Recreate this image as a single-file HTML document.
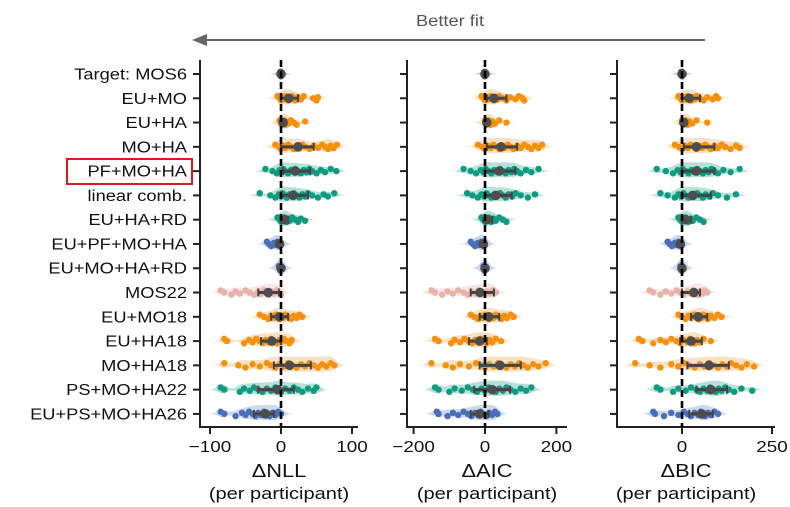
<!DOCTYPE html>
<html><head><meta charset="utf-8"><style>
body{margin:0;background:#fff;}
svg{display:block;font-family:"Liberation Sans",sans-serif;}
</style></head><body>
<svg id="chart" width="790" height="507" viewBox="0 0 790 507">
<text transform="translate(450,26) scale(1.18,1)" x="0" y="0" font-size="15.5" fill="#555" text-anchor="middle">Better fit</text>
<g>
<line x1="705" y1="40" x2="204" y2="40" stroke="#666" stroke-width="2"/>
<polygon points="192,40 207,34 207,46" fill="#666"/>
</g>
<rect x="67" y="159" width="125" height="25" fill="none" stroke="#e0191e" stroke-width="2"/>
</svg>
<script>
const models=["Target: MOS6","EU+MO","EU+HA","MO+HA","PF+MO+HA","linear comb.","EU+HA+RD","EU+PF+MO+HA","EU+MO+HA+RD","MOS22","EU+MO18","EU+HA18","MO+HA18","PS+MO+HA22","EU+PS+MO+HA26"];
const groups=["target","orange","orange","orange","teal","teal","teal","blue","blue","pink","orange","orange","orange","teal","blue"];
const panelNames=["ΔNLL","ΔAIC","ΔBIC"];
const tickNLL=[-100,0,100];
const tickAIC=[-200,0,200];
const tickBIC=[0,250];
const nllPts=[[0,0,0,0,0,-1,1,0],[-5,-2,0,2,4,6,8,10,12,14,16,18,20,24,28,32,45,50,52],[-2,0,1,2,3,4,5,6,8,10,14,18,22,34],[-8,-3,0,3,6,10,14,18,22,26,30,34,40,46,52,58,62,66,70,74,79],[-22,-12,-6,-2,0,3,6,10,14,18,20,24,28,32,36,40,44,50,56,62,70,78],[-30,-15,-8,-3,0,2,5,8,12,16,18,22,26,30,34,38,44,52,60,66,75],[-5,-2,0,2,4,5,6,8,10,12,16,20,24,28,34],[-20,-17,-14,-10,-7,-5,-3,-2,-1,0],[-3,-2,-1,0,0,0],[-85,-80,-70,-64,-58,-50,-44,-38,-32,-28,-24,-20,-17,-14,-10,-6,-3,0],[-30,-24,-18,-14,-10,-7,-4,-2,0,3,6,10,14,18,22,26,30],[-80,-76,-52,-45,-40,-35,-30,-26,-22,-18,-14,-10,-6,-2,0,4,8,12,15],[-80,-60,-50,-40,-30,-20,-14,-8,-2,4,10,16,22,28,34,40,46,52,58,64,70,75],[-85,-80,-58,-52,-44,-38,-32,-26,-20,-14,-8,-4,0,6,12,18,24,30,38,46,50],[-85,-80,-64,-55,-50,-45,-40,-36,-32,-28,-24,-20,-16,-12,-8,-4,0]];
const aicPts=[[0,0,0,0,0,-2,2,0],[-10,-4,0,5,10,15,20,25,30,35,40,50,60,70,85,95,105,110],[0,2,4,6,8,10,12,16,20,28,40,60],[-20,-8,0,8,16,24,32,40,48,56,64,72,80,90,100,110,120,130,140,150,160],[-60,-40,-25,-12,-4,2,10,18,26,34,42,50,58,66,74,82,90,100,115,130,150],[-50,-35,-20,-10,-2,4,10,18,26,34,42,50,58,66,76,86,100,120,140],[-10,-5,0,4,8,10,14,18,24,30,40,50,60],[-40,-34,-28,-20,-14,-10,-6,-3,-1,0],[-4,-2,-1,0,0,0],[-150,-140,-120,-105,-90,-75,-60,-48,-38,-28,-18,-10,-2,6,14,22,30],[-40,-30,-20,-12,-6,0,6,12,18,24,30,38,46,54,62,72,80],[-140,-130,-95,-85,-70,-58,-46,-36,-28,-20,-12,-4,4,12,20,30,45],[-150,-110,-90,-70,-45,-25,-10,0,12,24,36,48,60,72,84,96,108,120,135,150,170],[-140,-130,-100,-85,-65,-48,-34,-22,-10,0,10,20,30,40,50,60,72,85,100,115,130],[-135,-130,-105,-90,-75,-60,-48,-38,-28,-20,-12,-4,4,12,20,28,35]];
const bicPts=[[0,0,0,0,0,-2,2,0],[-10,-4,0,5,10,15,20,25,30,35,40,50,60,70,85,95,100],[0,2,4,6,8,10,12,16,20,28,40,70],[-20,-8,0,8,16,24,32,40,48,56,64,72,80,90,100,110,120,135,150,160],[-70,-45,-25,-12,-4,2,10,18,26,34,42,50,58,66,74,82,90,100,115,135,160],[-60,-40,-20,-10,-2,4,10,18,26,34,42,50,58,66,76,86,100,125,150],[-10,-5,0,4,8,10,14,18,24,30,40,50,60],[-40,-34,-28,-20,-14,-10,-6,-3,-1,0],[-4,-2,-1,0,0,0],[-90,-80,-60,-45,-30,-15,-5,5,15,25,32,38,44,50,56,62,70],[-10,0,10,18,26,34,40,45,50,55,60,66,72,80,90,100,110],[-120,-110,-80,-60,-45,-30,-15,-5,5,15,22,28,35,42,50,60,80],[-130,-90,-60,-30,-10,5,20,35,50,62,75,88,100,112,124,136,150,165,180,200],[-70,-60,-25,-10,10,25,40,50,60,70,78,86,94,102,110,120,130,145,165,195],[-80,-75,-50,-30,-10,5,15,25,35,45,52,58,64,72,80,90,100]];
const nllMed=[0,11,3,24,20,17,5,-2,0,-18,-2,-13,12,-5,-22];
const nllQ1=[0,0,0,0,3,0,0,-4,0,-32,-14,-28,-10,-32,-38];
const nllQ3=[0,24,5,46,41,38,10,0,0,-3,10,0,42,18,-10];
const aicMed=[0,25,5,45,40,30,5,-5,0,-14,10,-15,42,20,-15];
const aicQ1=[0,5,0,5,0,0,0,-10,0,-40,-15,-45,-15,-30,-40];
const aicQ3=[0,60,10,90,85,75,20,0,0,25,40,5,100,70,10];
const bicMed=[0,20,5,40,40,30,10,-5,0,33,45,25,75,80,55];
const bicQ1=[0,0,0,5,0,0,0,-10,0,0,25,-5,15,40,20];
const bicQ3=[0,50,10,90,90,80,25,0,0,50,70,55,130,125,85];

const NS='http://www.w3.org/2000/svg';
const svg=document.getElementById('chart');
const colors={target:'#555',orange:'#f7900d',teal:'#0f9b82',blue:'#4a6fb8',pink:'#e9b2ab'};
const fills={target:'#999',orange:'#f3c896',teal:'#7cc9b8',blue:'#a6b9de',pink:'#f1d3cf'};
function mk(tag,attrs,parent){const e=document.createElementNS(NS,tag);for(const k in attrs)e.setAttribute(k,attrs[k]);(parent||svg).appendChild(e);return e;}
function txt(x,y,size,anchor,str,parent){const t=mk('text',{transform:'translate('+x+','+y+') scale(1.18,1)',x:0,y:0,'font-size':size,'text-anchor':anchor,fill:'#111'},parent);t.textContent=str;return t;}
const rowY=i=>74+i*24.28;
const panels=[
 {left:200,right:358,x0:281,k:0.71,ticks:tickNLL,pts:nllPts,med:nllMed,q1:nllQ1,q3:nllQ3,bw:6},
 {left:407,right:567,x0:485,k:0.357,ticks:tickAIC,pts:aicPts,med:aicMed,q1:aicQ1,q3:aicQ3,bw:12},
 {left:617,right:775,x0:682,k:0.36,ticks:tickBIC,pts:bicPts,med:bicMed,q1:bicQ1,q3:bicQ3,bw:12}
];
const topY=60,bot=427;
models.forEach((m,i)=>{
 const t=txt(187,rowY(i)+5.5,15.5,'end',m);
 
 
});
panels.forEach((p,pi)=>{
 const g=mk('g',{});
 
 
 const X=v=>p.x0+v*p.k;
 mk('line',{x1:p.left,y1:topY,x2:p.left,y2:bot+1,stroke:'#222','stroke-width':2},g);
 mk('line',{x1:p.left-1,y1:bot,x2:p.right,y2:bot,stroke:'#222','stroke-width':2},g);
 models.forEach((m,i)=>mk('line',{x1:p.left-7,y1:rowY(i),x2:p.left,y2:rowY(i),stroke:'#222','stroke-width':2},g));
 p.ticks.forEach(tv=>{
  mk('line',{x1:X(tv),y1:bot,x2:X(tv),y2:bot+7,stroke:'#222','stroke-width':2},g);
  const t=txt(X(tv),bot+25,16,'middle',(tv<0?'−':'')+Math.abs(tv),g);
  
  
 });
 const cx=(p.left+p.right)/2+ (pi==2?-10:0);
 const a=txt(cx,477,18.5,'middle',panelNames[pi],g);
 
 
 const b=txt(cx,499,17,'middle','(per participant)',g);
 
 
 models.forEach((m,i)=>{
  const y=rowY(i),grp=groups[i],pts=p.pts[i];
  const rg=mk('g',{},g);
  
  
  const lo=Math.min(...pts)-3*p.bw,hi=Math.max(...pts)+3*p.bw;
  const n=60,dens=[];
  for(let s=0;s<=n;s++){const v=lo+(hi-lo)*s/n;let d=0;pts.forEach(q=>{const z=(v-q)/p.bw;d+=Math.exp(-z*z/2);});dens.push([v,d]);}
  const mx=Math.max(...dens.map(d=>d[1]));
  const h=grp==='target'?3:9;
  let path='M'+dens.map(d=>X(d[0]).toFixed(1)+','+(y-d[1]/mx*h).toFixed(1)).join('L');
  path+='L'+dens.slice().reverse().map(d=>X(d[0]).toFixed(1)+','+(y+d[1]/mx*h*0.7).toFixed(1)).join('L')+'Z';
  const vi=mk('path',{d:path,fill:fills[grp],opacity:0.55},rg);
  
  
  pts.forEach((v,j)=>{
   const c=mk('circle',{cx:X(v),cy:y+((j*7)%5-2)*1.1,r:3.2,fill:colors[grp]},rg);
   
   
  });
  const x1=X(p.q1[i]),x2=X(p.q3[i]);
  mk('line',{x1:x1,y1:y,x2:x2,y2:y,stroke:'#444','stroke-width':3},rg);
  mk('line',{x1:x1,y1:y-4,x2:x1,y2:y+4,stroke:'#444','stroke-width':2},rg);
  mk('line',{x1:x2,y1:y-4,x2:x2,y2:y+4,stroke:'#444','stroke-width':2},rg);
  const md=mk('circle',{cx:X(p.med[i]),cy:y,r:4.8,fill:'#4d4d4d'},rg);
  
  
 });
 const z=mk('line',{x1:X(0),y1:topY,x2:X(0),y2:bot,stroke:'#000','stroke-width':2.6,'stroke-dasharray':'7,4'},g);
 
 
});
</script>
</body></html>
